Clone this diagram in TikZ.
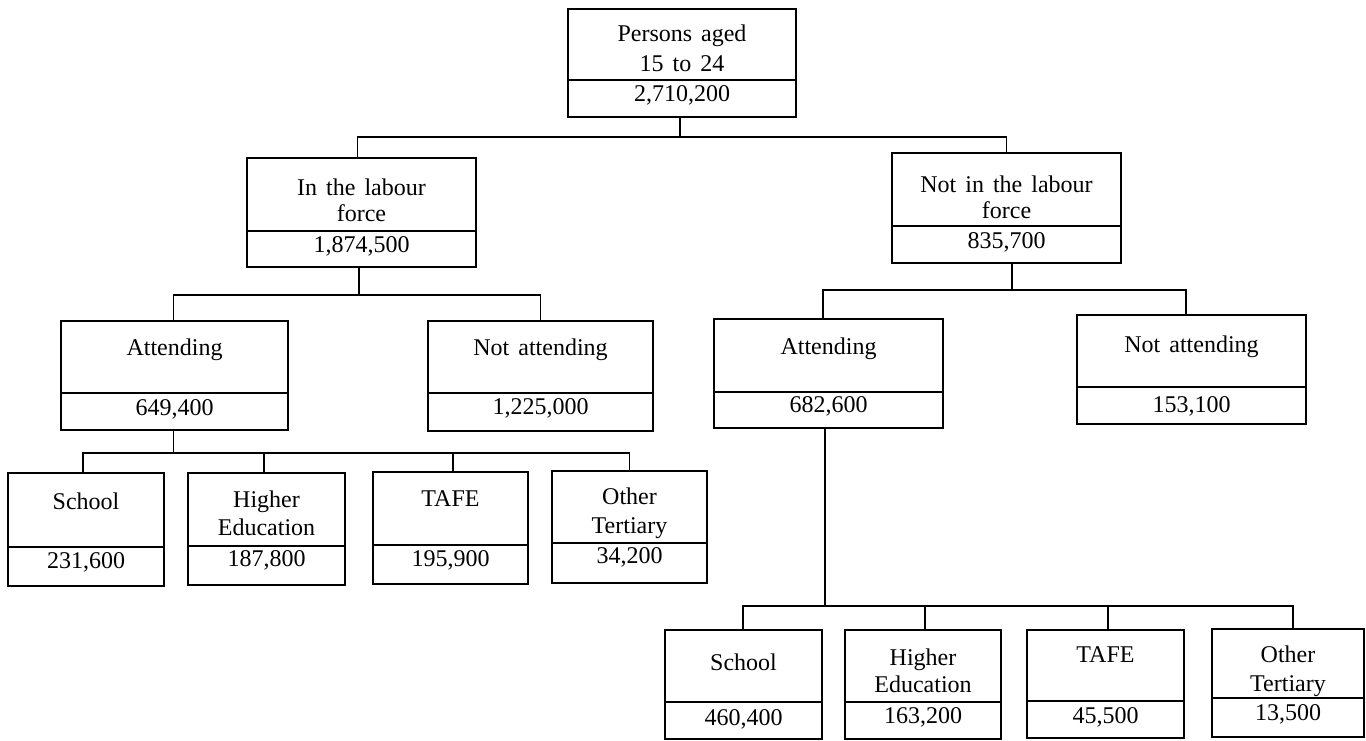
\documentclass[tikz,border=0pt]{standalone}
\usepackage{fontspec}
\setmainfont{Liberation Serif}[WordSpace=1.5]
\usetikzlibrary{calc}
\tikzset{
  boxst/.style={draw, line width=1.6pt, inner sep=0pt, outer sep=0pt, rectangle},
  divln/.style={line width=1.4pt},
  ln/.style={line width=1.4pt},
  txt/.style={inner sep=0pt, text height=16pt, text depth=0pt, font=\fontsize{24}{28}\selectfont}
}
% box: name, x1, y1, x2, y2, divider y
\newcommand\cbox[6]{%
  \node[boxst, minimum width={#4-#2}, minimum height={#5-#3}] (#1) at ({(#2+#4)/2},{(#3+#5)/2}) {};
  \draw[divln] (#2,#6) -- (#4,#6);
}
% text line: box name, suffix, y, text
\newcommand\tl[4]{%
  \path let \p1=(#1.north) in node[txt] (#1-#2) at (\x1,{-#3pt}) {#4};
}
\begin{document}
\begin{tikzpicture}[x=1pt,y=-1pt]
\useasboundingbox (0,0) rectangle (1366,740);
\fill[white] (0,0) rectangle (1366,740);

% boxes
\cbox{top}{568}{9}{796}{117}{80}
\cbox{InLab}{247}{158}{476}{267}{231}
\cbox{NotLab}{892}{153}{1121}{263}{226}
\cbox{AttL}{61}{321}{288}{430}{393}
\cbox{NotAttL}{428}{321}{653}{431}{393}
\cbox{AttR}{714}{319}{943}{428}{392}
\cbox{NotAttR}{1077}{315}{1306}{424}{387}
\cbox{SchL}{8}{473}{164}{586}{547}
\cbox{HiL}{188}{473}{345}{585}{546}
\cbox{TafL}{373}{472}{528}{584}{545}
\cbox{OthL}{552}{471}{707}{583}{543}
\cbox{SchR}{665}{630}{822}{739}{702}
\cbox{HiR}{845}{630}{1001}{739}{702}
\cbox{TafR}{1027}{630}{1184}{738}{701}
\cbox{OthR}{1212}{629}{1364}{737}{698}

% texts
\tl{top}{a}{33}{Persons aged}
\tl{top}{b}{63}{15 to 24}
\tl{top}{n}{93}{2,710,200}
\tl{InLab}{a}{187}{In the labour}
\tl{InLab}{b}{213}{force}
\tl{InLab}{n}{244}{1,874,500}
\tl{NotLab}{a}{184}{Not in the labour}
\tl{NotLab}{b}{210}{force}
\tl{NotLab}{n}{240}{835,700}
\tl{AttL}{a}{347}{Attending}
\tl{AttL}{n}{407}{649,400}
\tl{NotAttL}{a}{347}{Not attending}
\tl{NotAttL}{n}{406}{1,225,000}
\tl{AttR}{a}{346}{Attending}
\tl{AttR}{n}{404}{682,600}
\tl{NotAttR}{a}{344}{Not attending}
\tl{NotAttR}{n}{404}{153,100}
\tl{SchL}{a}{501}{School}
\tl{SchL}{n}{560}{231,600}
\tl{HiL}{a}{499}{Higher}
\tl{HiL}{b}{527}{Education}
\tl{HiL}{n}{558}{187,800}
\tl{TafL}{a}{498}{TAFE}
\tl{TafL}{n}{558}{195,900}
\tl{OthL}{a}{496}{Other}
\tl{OthL}{b}{525}{Tertiary}
\tl{OthL}{n}{555}{34,200}
\tl{SchR}{a}{662}{School}
\tl{SchR}{n}{717}{460,400}
\tl{HiR}{a}{657}{Higher}
\tl{HiR}{b}{684}{Education}
\tl{HiR}{n}{715}{163,200}
\tl{TafR}{a}{654}{TAFE}
\tl{TafR}{n}{715}{45,500}
\tl{OthR}{a}{654}{Other}
\tl{OthR}{b}{683}{Tertiary}
\tl{OthR}{n}{712}{13,500}

% connectors
\coordinate (j0) at (680,137);
\draw[ln] (top.south -| j0) -- (j0);
\draw[ln] ([xshift=-4pt]InLab.north) |- (j0) -| (NotLab.north);

\coordinate (j1) at (359,295);
\draw[ln] (InLab.south -| j1) -- (j1);
\draw[ln] ([xshift=-1pt]AttL.north) |- (j1) -| (NotAttL.north);

\coordinate (j2) at (1012,290);
\draw[ln] (NotLab.south -| j2) -- (j2);
\draw[ln] ([xshift=-5.5pt]AttR.north) |- (j2) -| ([xshift=-5.5pt]NotAttR.north);

\coordinate (j3) at (173.5,453);
\draw[ln] (AttL.south -| j3) -- (j3);
\draw[ln] ([xshift=-3pt]SchL.north) |- (j3) -| (OthL.north);
\draw[ln] ([xshift=-2.5pt]HiL.north) -- ([xshift=-2.5pt]HiL.north |- j3);
\draw[ln] ([xshift=2.5pt]TafL.north) -- ([xshift=2.5pt]TafL.north |- j3);

\coordinate (j4) at (825,606);
\draw[ln] (AttR.south -| j4) -- (j4);
\draw[ln] ([xshift=-0.5pt]SchR.north) |- (j4) -| ([xshift=5pt]OthR.north);
\draw[ln] ([xshift=2pt]HiR.north) -- ([xshift=2pt]HiR.north |- j4);
\draw[ln] ([xshift=2.5pt]TafR.north) -- ([xshift=2.5pt]TafR.north |- j4);
\end{tikzpicture}
\end{document}
